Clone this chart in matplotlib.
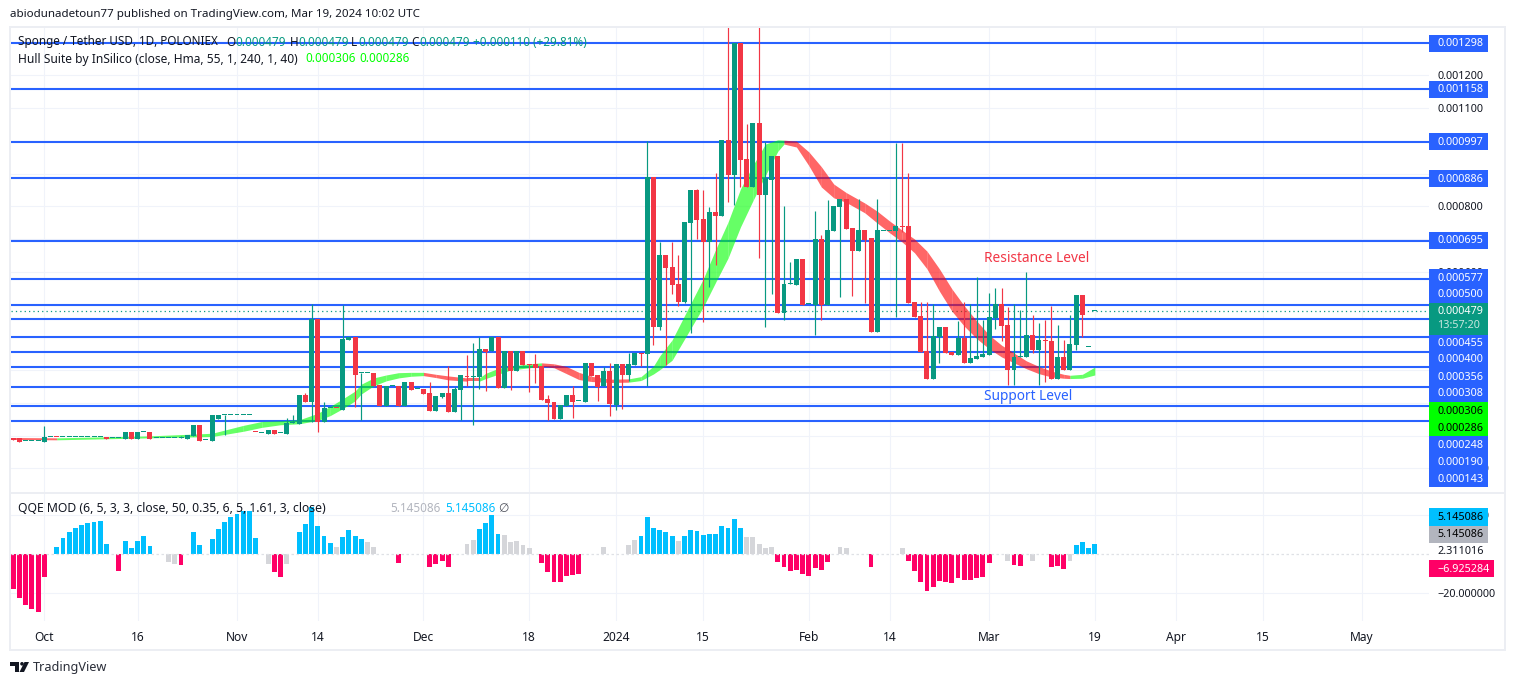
import matplotlib
matplotlib.use("Agg")
import matplotlib.pyplot as plt
import numpy as np
from matplotlib.patches import Rectangle, Polygon, Circle
from matplotlib.transforms import Affine2D

W, H = 1515, 685
plt.rcParams['font.family'] = ['Noto Sans', 'DejaVu Sans']

# daily candles, first bar is index -5, prices in 1e-6 USDT
first_bar = -5
opens = [93, 91, 83, 83, 83, 81, 95, 96, 95, 95, 95, 95, 95, 95, 95, 96, 92, 92, 90, 111,
         90, 110, 111, 92, 92, 92, 92, 92, 90, 100, 132, 86, 84, 151, 162, 162, 162, 162, 162, 111,
         107, 105, 117, 107, 105, 138, 135, 224, 203, 457, 142, 183, 184, 178, 392, 402, 290, 290, 290, 254,
         191, 252, 252, 191, 264, 241, 242, 230, 175, 218, 230, 172, 239, 282, 280, 279, 364, 358, 402, 245,
         358, 297, 358, 318, 319, 313, 212, 203, 151, 191, 224, 205, 203, 322, 285, 250, 297, 193, 319, 285,
         316, 352, 349, 888, 430, 651, 615, 563, 508, 749, 850, 761, 691, 783, 771, 1003, 896, 1299, 945, 859,
         1054, 835, 880, 954, 474, 562, 560, 639, 502, 499, 700, 499, 725, 798, 822, 734, 664, 728, 703, 416,
         726, 726, 725, 740, 740, 508, 465, 358, 273, 402, 432, 355, 346, 398, 322, 334, 340, 346, 459, 502,
         438, 300, 341, 340, 407, 361, 392, 389, 273, 340, 300, 377, 529, 369, 479]
highs = [93, 91, 83, 83, 83, 129, 95, 96, 95, 95, 95, 95, 95, 95, 95, 96, 92, 92, 111, 111,
         111, 110, 111, 92, 92, 92, 92, 98, 102, 132, 132, 86, 163, 163, 164, 162, 162, 162, 162, 111,
         107, 117, 117, 107, 154, 163, 224, 230, 502, 457, 203, 183, 184, 499, 402, 402, 290, 290, 290, 254,
         252, 252, 252, 264, 264, 241, 242, 264, 221, 230, 313, 249, 285, 346, 383, 401, 364, 402, 402, 358,
         358, 358, 358, 318, 349, 313, 224, 203, 193, 224, 252, 205, 322, 322, 285, 309, 322, 319, 319, 352,
         352, 352, 1000, 888, 692, 651, 692, 651, 752, 850, 853, 850, 799, 902, 1003, 1348, 1299, 1299, 1051, 1054,
         1348, 996, 954, 954, 801, 630, 639, 639, 502, 786, 713, 819, 801, 822, 822, 734, 822, 728, 703, 822,
         726, 726, 993, 993, 902, 508, 508, 508, 502, 432, 432, 355, 450, 509, 502, 585, 453, 535, 551, 551,
         493, 502, 484, 600, 468, 444, 453, 496, 438, 392, 468, 529, 529, 369, 479]
lows = [87, 81, 83, 83, 83, 81, 95, 95, 95, 95, 95, 95, 95, 95, 95, 90, 92, 92, 90, 90,
        90, 110, 90, 92, 92, 92, 92, 92, 90, 100, 84, 86, 84, 151, 102, 162, 162, 162, 162, 110,
        107, 105, 105, 107, 105, 138, 135, 203, 140, 111, 142, 183, 183, 178, 392, 187, 148, 290, 252, 191,
        191, 252, 191, 191, 239, 241, 227, 175, 175, 215, 172, 172, 148, 252, 132, 242, 236, 358, 245, 245,
        239, 297, 316, 234, 261, 209, 148, 151, 151, 191, 154, 205, 203, 282, 206, 250, 160, 178, 181, 268,
        316, 312, 252, 377, 422, 316, 532, 496, 505, 414, 700, 448, 555, 621, 771, 814, 804, 860, 859, 859,
        643, 432, 532, 474, 453, 562, 560, 499, 502, 407, 453, 499, 725, 524, 731, 526, 664, 505, 416, 416,
        726, 726, 463, 723, 505, 462, 355, 273, 273, 323, 352, 346, 346, 322, 322, 334, 340, 346, 425, 389,
        255, 255, 341, 340, 352, 255, 264, 273, 273, 300, 300, 361, 402, 369, 479]
closes = [87, 81, 83, 83, 83, 96, 95, 95, 95, 95, 95, 95, 95, 95, 95, 90, 92, 92, 111, 90,
          111, 110, 90, 92, 92, 92, 92, 92, 102, 132, 84, 86, 163, 163, 162, 162, 162, 162, 162, 110,
          107, 117, 105, 107, 138, 138, 224, 203, 457, 142, 184, 183, 183, 395, 402, 285, 290, 290, 252, 191,
          252, 252, 191, 264, 239, 241, 227, 175, 221, 230, 172, 242, 285, 279, 280, 364, 356, 402, 245, 358,
          297, 358, 316, 316, 306, 209, 200, 151, 193, 224, 203, 205, 322, 282, 248, 297, 197, 319, 285, 319,
          352, 350, 888, 430, 651, 613, 560, 508, 752, 850, 758, 691, 783, 771, 1003, 896, 1299, 941, 859, 1054,
          835, 887, 954, 474, 563, 562, 639, 499, 502, 700, 499, 728, 801, 822, 731, 664, 728, 697, 416, 728,
          726, 726, 740, 738, 505, 463, 355, 273, 404, 432, 352, 346, 398, 322, 337, 343, 349, 462, 502, 435,
          300, 340, 341, 407, 361, 392, 390, 273, 340, 300, 380, 529, 468, 369, 479]

hull_bars = [-5, 2, 17, 27, 32, 35, 38, 41, 44, 46, 48, 50, 51, 53, 55, 57, 59, 61, 63, 65,
             68, 70, 71, 73, 75, 78, 80, 82, 84, 86, 88, 91, 94, 96, 98, 99, 101, 106, 108, 110,
             112, 114, 116, 118, 119, 121, 123, 125, 127, 129, 132, 134, 136, 138, 140, 142, 144, 146, 148, 150,
             152, 154, 156, 158, 160, 162, 164, 165, 167, 169]
hull_top = [94, 93, 99, 107, 131, 143, 145, 148, 168, 189, 212, 236, 257, 276, 285, 292, 293, 293, 287, 282,
            276, 276, 290, 305, 312, 319, 322, 319, 311, 293, 281, 272, 273, 280, 312, 343, 392, 578, 668, 752,
            853, 925, 990, 1003, 1002, 999, 966, 921, 868, 842, 810, 785, 755, 727, 700, 663, 609, 548, 496, 450,
            407, 376, 352, 328, 311, 297, 287, 284, 287, 309]
hull_bot = [88, 87, 93, 97, 113, 125, 133, 136, 146, 161, 182, 206, 227, 252, 267, 276, 281, 283, 277, 270,
            266, 266, 274, 287, 300, 307, 312, 307, 289, 271, 265, 262, 263, 268, 288, 301, 330, 492, 568, 642,
            737, 817, 894, 968, 990, 981, 924, 859, 826, 812, 780, 749, 719, 691, 658, 609, 541, 480, 434, 396,
            365, 340, 322, 304, 289, 279, 275, 274, 275, 285]
hull_falling = [(-5, 2), (61, 70), (80, 94), (119, 165)]

levels = [0.001298, 0.001158, 0.000997, 0.000886, 0.000695, 0.000577, 0.000500,
          0.000455, 0.000400, 0.000356, 0.000308, 0.000248, 0.000190, 0.000143]
last_price = 0.000479
price_ticks = [0.0012, 0.0011, 0.0010, 0.0009, 0.0008, 0.0007, 0.0006, 0.0005,
               0.0004, 0.0003, 0.0002, 0.0001, 0.0]

# QQE histogram, same bars as the candles
qqe = [-17.9, -22.3, -26.0, -28.1, -29.6, -11.7, 0, 3.6, 8.2, 11.2, 13.3, 14.8, 15.8, 16.3, 16.8, 5.1, 0, -8.7, 6.6, 3.1,
       6.6, 9.2, 4.1, 0, 0, -4.1, -5.1, -5.6, 0, 11.2, 4.6, 0, 7.7, 12.8, 16.3, 18.9, 20.4, 21.9, 21.9, 8.2,
       0, -5.1, -9.2, -11.7, -5.1, 0, 11.2, 15.3, 24.0, 14.3, 9.2, 5.6, 3.6, 8.7, 12.2, 9.2, 7.7, 6.1, 3.6, 0,
       0, 0, -4.6, 0, 0, 0, 0, -6.6, -5.1, -3.6, -6.6, 0, 0, 5.1, 7.1, 12.8, 15.8, 19.9, 10.2, 9.7,
       6.1, 6.6, 4.6, 3.1, 0, -4.6, -9.2, -14.3, -14.3, -11.2, -10.7, -10.2, 0, 0, 0, 3.6, 0, 0, 0, 4.6,
       7.1, 9.2, 18.9, 13.3, 12.2, 11.2, 9.2, 6.6, 9.2, 12.2, 11.7, 9.7, 10.2, 10.2, 14.3, 13.3, 17.9, 13.3, 8.7, 8.7,
       5.1, 3.1, 3.6, -4.1, -6.6, -8.7, -8.2, -10.2, -11.2, -7.1, -8.2, -4.1, 0, 3.6, 3.1, 0, 0, 0, -6.6, 0,
       0, 0, 0, 3.1, -3.6, -8.7, -14.3, -18.9, -16.8, -13.8, -14.3, -14.8, -12.2, -13.3, -13.3, -12.2, -11.7, -4.6, 0, 0,
       -3.6, -5.6, -6.1, 0, -3.6, 0, 0, -6.6, -6.1, -7.7, -3.6, 4.6, 6.1, 3.1, 5.1]
qqe_kind = ("rrrrrrgbbbbbbbbbgrbb"
            "bbbggggrgbbgbbbbbbbb"
            "ggrrggbbbbbbgbbbbggg"
            "ggrggggrrrrggggbbbbg"
            "gggggrrrrrrrgggggggg"
            "gbbbbbbgbbbbbbbbbbgg"
            "gggrrrrrrrrrggggggrg"
            "ggggrrrrrrrrrrrrrrgg"
            "grrgggg" "rrrgbbbb")

tick_bars = [0, 15, 31, 44, 61, 78, 92, 106, 123, 136, 152, 169, 182, 196, 212]
tick_labels = ['Oct', '16', 'Nov', '14', 'Dec', '18', '2024', '15', 'Feb', '14', 'Mar', '19', 'Apr', '15', 'May']

GREEN, RED, BLUE = '#089981', '#f23645', '#2962ff'
QQE_COLORS = {'r': '#ff0066', 'b': '#00bfff', 'g': '#d5d6da'}
GRID = '#f0f3fa'
INK = '#131722'


def rect(x0, y0, x1, y1):
    # pixel box, y from the top of the picture
    return [x0 / W, 1 - y1 / H, (x1 - x0) / W, (y1 - y0) / H]


def label(x, y, s, color=INK, size=10.8, **kw):
    kw.setdefault('ha', 'left')
    return fig.text(x / W, 1 - y / H, s, color=color, fontsize=size * 0.72, va='center', zorder=6, **kw)


def box(x0, y0, x1, y1, color):
    fig.add_artist(Rectangle((x0 / W, 1 - y1 / H), (x1 - x0) / W, (y1 - y0) / H,
                             transform=fig.transFigure, facecolor=color, edgecolor='none', zorder=5))


fig = plt.figure(figsize=(W / 100, H / 100), dpi=100, facecolor='white')

# frame around the whole chart
for x0, y0, x1, y1 in [(9, 26, 1505, 28), (9, 26, 11, 651), (1504, 26, 1506, 651), (9, 649, 1506, 651), (9, 492, 1506, 494)]:
    box(x0, y0, x1, y1, '#eceef3')

ax = fig.add_axes(rect(11, 28, 1429, 492))
sub = fig.add_axes(rect(11, 494, 1429, 621))
xlim = ((11 - 44.3) / 6.216, (1429 - 44.3) / 6.216)
for a in (ax, sub):
    a.set_xlim(*xlim)
    a.patch.set_alpha(0)
    for s in a.spines.values():
        s.set_visible(False)
    a.grid(True, color=GRID, lw=0.8, zorder=0)
    a.set_axisbelow(True)
    a.yaxis.tick_right()
    a.tick_params(axis='y', length=0, pad=6, labelsize=10.8 * 0.72, labelcolor=INK)

ax.set_ylim(0.0012 - (492 - 75.3) / 327500, 0.0012 + (75.3 - 28) / 327500)
ax.set_yticks(price_ticks)
ax.set_yticklabels(['\u22120.000000' if p == 0 else f'{p:.6f}' for p in price_ticks])
ax.set_xticks(tick_bars)
ax.tick_params(axis='x', length=0, labelbottom=False)

for lv in levels:
    ax.axhline(lv, color=BLUE, lw=1.5, zorder=1)
ax.axhline(last_price, color=GREEN, lw=0.9, ls=(0, (1, 2.5)), zorder=1)

# ribbon
hb = np.array(hull_bars)
ht = np.array(hull_top) * 1e-6
hl = np.array(hull_bot) * 1e-6
for k in range(len(hb) - 1):
    mid = (hb[k] + hb[k + 1]) / 2
    falling = any(a < mid < b for a, b in hull_falling)
    ax.fill_between(hb[k:k + 2], hl[k:k + 2], ht[k:k + 2], color='#ff0000' if falling else '#00ff00',
                    alpha=0.6, lw=0, zorder=2)

# candles
bars = np.arange(first_bar, first_bar + len(opens))
o, h, l, c = [np.array(v) * 1e-6 for v in (opens, highs, lows, closes)]
cols = [RED if cc < oo else GREEN for oo, cc in zip(o, c)]
ax.vlines(bars, l, h, colors=cols, lw=0.85, zorder=3)
body_h = np.maximum(np.abs(c - o), 3e-6)
ax.bar(bars, body_h, bottom=np.minimum(o, c), width=0.8, color=cols, lw=0, zorder=4)

# QQE pane
sub.set_ylim((554 - 621) / 1.96, (554 - 494) / 1.96)
sub.bar(bars, qqe, width=0.78, color=[QQE_COLORS[k] for k in qqe_kind], lw=0, zorder=3)
sub.axhline(0, color='#dfe1e6', lw=0.9, ls=(0, (2, 2)), zorder=4)
sub.set_yticks([20, -20])
sub.set_yticklabels(['20.000000', '\u221220.000000'])
sub.set_xticks(tick_bars)
sub.set_xticklabels(tick_labels)
sub.tick_params(axis='x', length=0, pad=7, labelsize=12 * 0.72, labelcolor=INK)

# price labels down the right side
blue_labels = [('0.001298', 43.5), ('0.001158', 89.5), ('0.000997', 141.7), ('0.000886', 178.7),
               ('0.000695', 240.3), ('0.000577', 277.5), ('0.000500', 294.3), ('0.000455', 342.7),
               ('0.000400', 359.5), ('0.000356', 376.7), ('0.000308', 393.5), ('0.000248', 444.5),
               ('0.000190', 461.7), ('0.000143', 478.7)]
for s, y in blue_labels:
    box(1429, y - 8.5, 1488, y + 8.5, BLUE)
    label(1437, y + 0.5, s, 'white')
box(1429, 303, 1488, 334.5, GREEN)
label(1437, 312, '0.000479', 'white')
label(1437, 326, '13:57:20', '#c8e6df')
box(1429, 402, 1488, 436, '#00ff00')
label(1437, 411, '0.000306', 'black')
label(1437, 428.5, '0.000286', 'black')

box(1429, 508, 1488, 525.5, '#00bfff')
label(1437, 517, '5.145086', 'black')
box(1429, 525.5, 1488, 542.5, '#b2b5be')
label(1437, 534.5, '5.145086', 'black')
label(1437, 551, '2.311016', INK)
box(1429, 560, 1494, 577, '#ff0066')
label(1437, 569, '\u22126.925284', 'white')

# header and legends
label(10, 14.5, 'abiodunadetoun77 published on TradingView.com, Mar 19, 2024 10:02 UTC', size=11.55)
label(18, 42, 'Sponge / Tether USD, 1D, POLONIEX', size=11.7)
for x, s in [(226.6, 'O'), (290, 'H'), (351, 'L'), (411, 'C')]:
    label(x, 42, s, size=11.7)
for x, s in [(235, '0.000479'), (298, '0.000479'), (358, '0.000479'), (419, '0.000479'), (473, '+0.000110 (+29.81%)')]:
    label(x, 42, s, GREEN, size=11.7)
label(18, 59, 'Hull Suite by InSilico (close, Hma, 55, 1, 240, 1, 40)', size=12)
label(305, 59, '0.000306', '#00ff00', size=11.7)
label(359, 59, '0.000286', '#00ff00', size=11.7)
label(18, 509, 'QQE MOD (6, 5, 3, 3, close, 50, 0.35, 6, 5, 1.61, 3, close)', size=12.2)
label(390, 509, '5.145086', '#b2b5be', size=11.7)
label(445, 509, '5.145086', '#00bfff', size=11.7)
label(498, 509, '\u2205', '#50535e', size=12)

label(984, 258.5, 'Resistance Level', RED, size=13.7)
label(984, 396.5, 'Support Level', BLUE, size=13.7)

# logo and footer
flip = Affine2D().scale(1, -1).translate(0, H)
for patch in [Polygon([(10, 662), (19, 662), (19, 672), (14.5, 672), (14.5, 665.5), (10, 665.5)]),
              Polygon([(24.5, 662), (29, 662), (24, 672), (19.5, 672)]),
              Circle((22, 663.8), 1.8)]:
    patch.set(facecolor=INK, edgecolor='none', zorder=6, transform=flip)
    fig.add_artist(patch)
label(33, 668, 'TradingView', '#2a2e39', size=12.7)

fig.savefig('out.png', dpi=100, facecolor='white')
